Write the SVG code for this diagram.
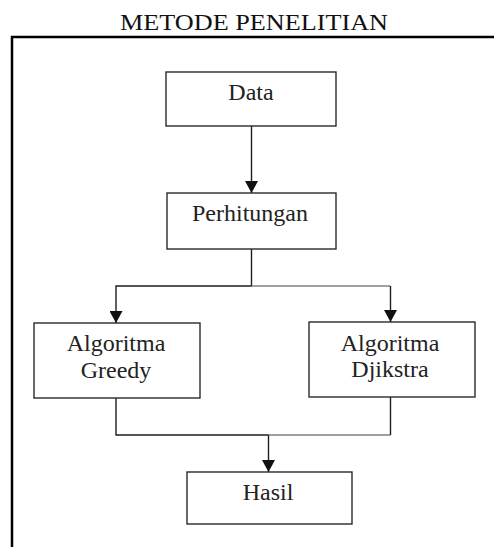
<svg xmlns="http://www.w3.org/2000/svg" width="494" height="547" viewBox="0 0 494 547">
<style>
.box{fill:#fff;stroke:#2a2a2a;stroke-width:1.4}
.ln{fill:none;stroke:#1e1e1e;stroke-width:1.4}
.lg{fill:none;stroke:#808080;stroke-width:1.6}
</style>
<defs>
<marker id="ah" markerUnits="userSpaceOnUse" markerWidth="13" markerHeight="13" refX="12" refY="6.5" orient="auto">
<path d="M0,0 L12,6.5 L0,13 z" fill="#111"/>
</marker>
</defs>
<rect width="494" height="547" fill="#fff"/>
<text x="254" y="29.5" font-family="Liberation Serif, Times New Roman, serif" font-size="23" fill="#111" text-anchor="middle" textLength="268" lengthAdjust="spacingAndGlyphs">METODE PENELITIAN</text>
<path d="M12,548 V37 H495" fill="none" stroke="#000" stroke-width="2.5"/>
<g id="connectors">
<path class="ln" d="M251.5,126 V193" marker-end="url(#ah)"/>
<path class="ln" d="M251.5,249 V286 H116 V323" marker-end="url(#ah)"/>
<path class="lg" d="M251.5,286 H390.5"/>
<path class="ln" d="M390.5,286 V322" marker-end="url(#ah)"/>
<path class="ln" d="M116,398 V435 H268.5 V472" marker-end="url(#ah)"/>
<path class="lg" d="M268.5,435 H390.5"/>
<path class="ln" d="M390.5,397 V435"/>
</g>
<g id="data">
<rect class="box" x="166" y="72" width="170" height="54"/>
<text x="251" y="100" font-family="Liberation Serif, Times New Roman, serif" font-size="24" fill="#222" text-anchor="middle">Data</text>
</g>
<g id="perhitungan">
<rect class="box" x="167" y="193" width="169" height="56"/>
<text x="250" y="221" font-family="Liberation Serif, Times New Roman, serif" font-size="24" fill="#222" text-anchor="middle">Perhitungan</text>
</g>
<g id="greedy">
<rect class="box" x="34" y="323" width="166" height="75"/>
<text x="116" y="351" font-family="Liberation Serif, Times New Roman, serif" font-size="24" fill="#222" text-anchor="middle">Algoritma</text>
<text x="116" y="377.5" font-family="Liberation Serif, Times New Roman, serif" font-size="24" fill="#222" text-anchor="middle">Greedy</text>
</g>
<g id="djikstra">
<rect class="box" x="309" y="322" width="166" height="75"/>
<text x="390" y="351" font-family="Liberation Serif, Times New Roman, serif" font-size="24" fill="#222" text-anchor="middle">Algoritma</text>
<text x="390" y="377" font-family="Liberation Serif, Times New Roman, serif" font-size="24" fill="#222" text-anchor="middle">Djikstra</text>
</g>
<g id="hasil">
<rect class="box" x="187" y="472" width="165" height="52"/>
<text x="268" y="499.5" font-family="Liberation Serif, Times New Roman, serif" font-size="24" fill="#222" text-anchor="middle">Hasil</text>
</g>
</svg>
